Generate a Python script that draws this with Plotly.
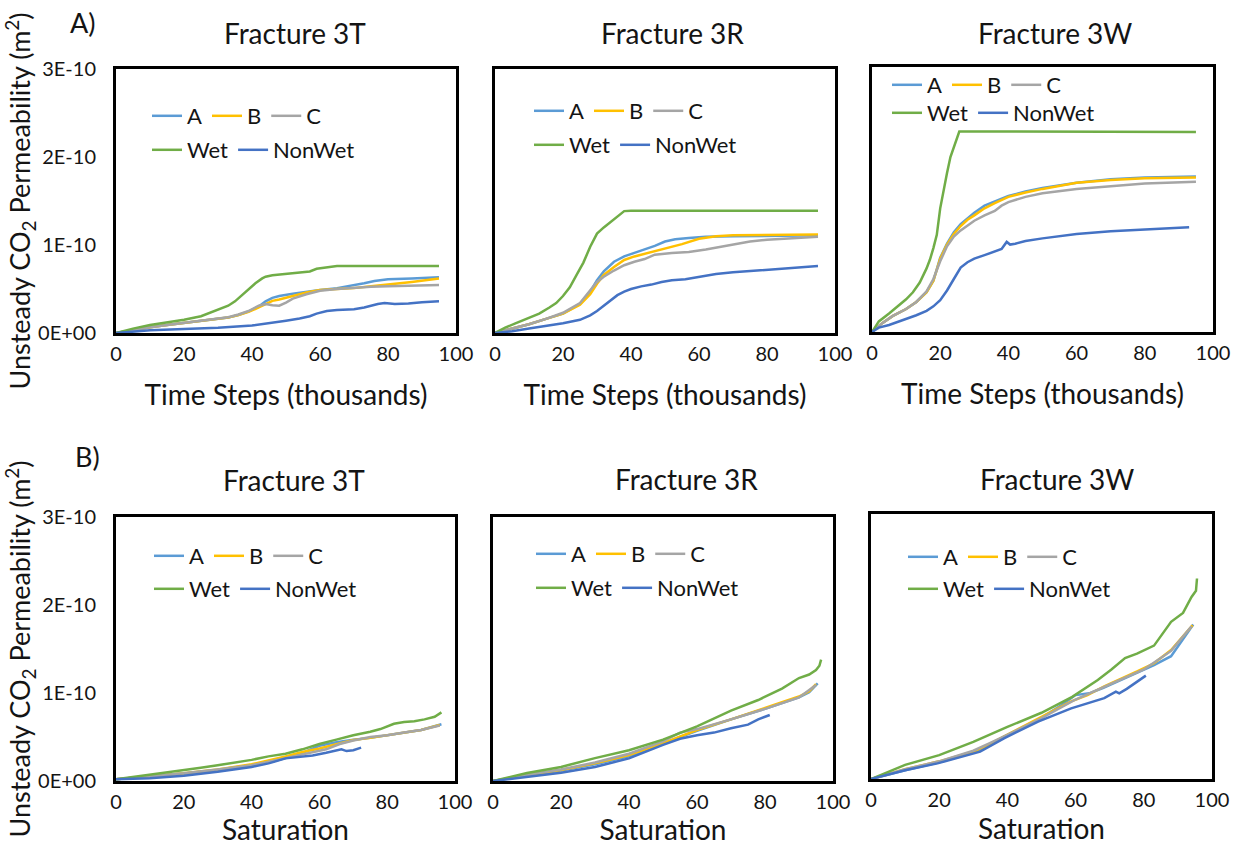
import plotly.graph_objects as go

UNIT = 1e-10  # values below are in units of 1E-10 m^2

# ---------------- Row A: permeability vs time steps (thousands) ----------------
# Fracture 3T
t3T_A_x = [0, 5, 10, 15, 20, 25, 30, 33, 36, 39, 42, 44, 46, 48, 52, 56, 60, 65, 70, 73, 76, 80, 87, 95]
t3T_A_y = [0, 0.035, 0.065, 0.09, 0.115, 0.14, 0.16, 0.175, 0.205, 0.245, 0.30, 0.36, 0.40, 0.42, 0.445, 0.47, 0.49, 0.51, 0.54, 0.565, 0.59, 0.61, 0.62, 0.633]
t3T_B_x = [0, 5, 10, 15, 20, 25, 30, 33, 36, 39, 42, 44, 46, 48, 52, 56, 60, 65, 70, 75, 80, 87, 95]
t3T_B_y = [0, 0.035, 0.065, 0.09, 0.115, 0.14, 0.16, 0.175, 0.205, 0.24, 0.29, 0.33, 0.365, 0.38, 0.42, 0.46, 0.49, 0.50, 0.51, 0.53, 0.55, 0.58, 0.62]
t3T_C_x = [0, 5, 10, 15, 20, 25, 30, 33, 36, 39, 42, 44, 46, 48, 50, 52, 56, 60, 65, 70, 75, 80, 87, 95]
t3T_C_y = [0, 0.035, 0.065, 0.09, 0.115, 0.14, 0.16, 0.18, 0.21, 0.25, 0.31, 0.33, 0.315, 0.31, 0.345, 0.39, 0.44, 0.48, 0.50, 0.515, 0.525, 0.53, 0.54, 0.545]
t3T_Wet_x = [0, 5, 10, 15, 20, 25, 27, 30, 33, 35, 37, 39, 41, 43, 44, 46, 49, 52, 55, 57, 59, 62, 65, 70, 80, 95]
t3T_Wet_y = [0, 0.05, 0.09, 0.12, 0.15, 0.19, 0.22, 0.26, 0.31, 0.36, 0.43, 0.50, 0.565, 0.62, 0.64, 0.655, 0.665, 0.675, 0.686, 0.70, 0.73, 0.745, 0.76, 0.76, 0.76, 0.76]
t3T_NonWet_x = [0, 10, 20, 30, 40, 45, 50, 54, 57, 59, 62, 65, 70, 73, 77, 79, 82, 86, 90, 95]
t3T_NonWet_y = [0, 0.03, 0.045, 0.06, 0.085, 0.11, 0.14, 0.165, 0.19, 0.22, 0.25, 0.26, 0.27, 0.29, 0.33, 0.34, 0.33, 0.335, 0.35, 0.36]

# Fracture 3R
t3R_A_x = [0, 5, 10, 15, 20, 25, 28, 30, 32, 35, 38, 41, 44, 47, 50, 53, 57, 62, 70, 80, 95]
t3R_A_y = [0, 0.05, 0.10, 0.16, 0.22, 0.33, 0.47, 0.60, 0.70, 0.81, 0.87, 0.91, 0.95, 0.99, 1.04, 1.065, 1.08, 1.095, 1.10, 1.105, 1.11]
t3R_B_x = [0, 5, 10, 15, 20, 25, 28, 30, 32, 35, 38, 41, 44, 47, 50, 55, 60, 65, 70, 80, 95]
t3R_B_y = [0, 0.05, 0.10, 0.16, 0.22, 0.32, 0.44, 0.56, 0.66, 0.75, 0.83, 0.87, 0.90, 0.93, 0.96, 1.01, 1.07, 1.10, 1.11, 1.115, 1.12]
t3R_C_x = [0, 5, 10, 15, 20, 25, 28, 30, 32, 35, 38, 41, 44, 47, 52, 57, 62, 66, 70, 75, 80, 88, 95]
t3R_C_y = [0, 0.05, 0.10, 0.16, 0.23, 0.34, 0.48, 0.58, 0.64, 0.71, 0.77, 0.81, 0.84, 0.89, 0.91, 0.92, 0.95, 0.98, 1.01, 1.04, 1.06, 1.08, 1.095]
t3R_Wet_x = [0, 3, 6, 10, 13, 16, 18, 20, 22, 24, 26, 28, 30, 32, 34, 36, 38, 40, 60, 80, 95]
t3R_Wet_y = [0, 0.06, 0.11, 0.17, 0.22, 0.29, 0.34, 0.42, 0.52, 0.66, 0.80, 0.98, 1.13, 1.20, 1.26, 1.33, 1.385, 1.39, 1.39, 1.39, 1.39]
t3R_NonWet_x = [0, 5, 10, 15, 20, 25, 28, 30, 32, 34, 36, 38, 40, 43, 46, 49, 52, 56, 60, 65, 70, 80, 95]
t3R_NonWet_y = [0, 0.02, 0.05, 0.08, 0.11, 0.15, 0.20, 0.25, 0.31, 0.38, 0.43, 0.47, 0.50, 0.53, 0.55, 0.58, 0.60, 0.61, 0.64, 0.67, 0.69, 0.72, 0.76]

# Fracture 3W
t3W_A_x = [0, 3, 6, 10, 13, 16, 18, 20, 22, 24, 26, 28, 30, 33, 36, 40, 45, 50, 60, 70, 80, 95]
t3W_A_y = [0, 0.10, 0.18, 0.26, 0.34, 0.45, 0.58, 0.84, 1.00, 1.13, 1.22, 1.29, 1.35, 1.43, 1.48, 1.54, 1.59, 1.63, 1.69, 1.73, 1.75, 1.76]
t3W_B_x = [0, 3, 6, 10, 13, 16, 18, 20, 22, 24, 26, 28, 30, 33, 36, 40, 45, 50, 60, 70, 80, 95]
t3W_B_y = [0, 0.10, 0.18, 0.26, 0.34, 0.45, 0.58, 0.83, 0.99, 1.11, 1.20, 1.27, 1.32, 1.40, 1.46, 1.53, 1.58, 1.62, 1.69, 1.72, 1.74, 1.75]
t3W_C_x = [0, 3, 6, 10, 13, 16, 18, 20, 22, 24, 26, 28, 30, 33, 36, 38, 40, 45, 50, 60, 70, 80, 95]
t3W_C_y = [0, 0.10, 0.18, 0.26, 0.34, 0.46, 0.60, 0.80, 0.97, 1.08, 1.15, 1.21, 1.26, 1.32, 1.37, 1.43, 1.47, 1.53, 1.57, 1.62, 1.65, 1.68, 1.70]
t3W_Wet_x = [0, 2, 5, 8, 10, 12, 14, 16, 17, 18, 19, 20, 21, 22, 23, 24, 25, 25.6, 27, 40, 60, 80, 95]
t3W_Wet_y = [0, 0.12, 0.21, 0.30, 0.37, 0.45, 0.56, 0.72, 0.82, 0.95, 1.10, 1.40, 1.62, 1.80, 1.98, 2.10, 2.20, 2.27, 2.27, 2.27, 2.27, 2.27, 2.265]
t3W_NonWet_x = [0, 2, 5, 8, 10, 13, 16, 18, 20, 22, 24, 26, 28, 30, 33, 36, 38, 39.5, 40.5, 42, 45, 50, 60, 70, 80, 93]
t3W_NonWet_y = [0, 0.05, 0.08, 0.12, 0.15, 0.19, 0.24, 0.29, 0.36, 0.47, 0.60, 0.73, 0.79, 0.83, 0.87, 0.91, 0.94, 1.02, 0.99, 1.00, 1.03, 1.06, 1.11, 1.14, 1.16, 1.185]

# ---------------- Row B: permeability vs saturation ----------------
s3T_A_x = [0, 10, 20, 30, 40, 45, 50, 55, 60, 65, 70, 75, 80, 85, 90, 96]
s3T_A_y = [0.02, 0.05, 0.085, 0.125, 0.17, 0.21, 0.26, 0.32, 0.40, 0.44, 0.47, 0.49, 0.52, 0.55, 0.58, 0.645]
s3T_B_x = [0, 10, 20, 30, 40, 50, 55, 60, 65, 70, 75, 80, 85, 90, 95.5]
s3T_B_y = [0.02, 0.05, 0.087, 0.13, 0.19, 0.28, 0.33, 0.37, 0.42, 0.466, 0.49, 0.52, 0.55, 0.58, 0.636]
s3T_C_x = [0, 10, 20, 30, 40, 50, 55, 58, 62, 66, 70, 75, 80, 85, 90, 95.5]
s3T_C_y = [0.02, 0.05, 0.087, 0.13, 0.18, 0.26, 0.30, 0.32, 0.36, 0.42, 0.46, 0.50, 0.52, 0.55, 0.58, 0.63]
s3T_Wet_x = [0, 5, 10, 15, 20, 25, 30, 35, 40, 45, 50, 55, 60, 65, 70, 75, 78, 82, 85, 88, 91, 94, 96]
s3T_Wet_y = [0.02, 0.045, 0.07, 0.10, 0.125, 0.15, 0.18, 0.21, 0.24, 0.28, 0.31, 0.36, 0.42, 0.47, 0.52, 0.56, 0.59, 0.65, 0.67, 0.68, 0.70, 0.73, 0.78]
s3T_NonWet_x = [0, 10, 20, 30, 40, 45, 50, 55, 58, 62, 65, 66.5, 68, 70, 72.3]
s3T_NonWet_y = [0.02, 0.03, 0.06, 0.105, 0.16, 0.20, 0.257, 0.28, 0.29, 0.32, 0.35, 0.36, 0.34, 0.35, 0.38]

s3R_A_x = [0, 10, 20, 30, 40, 50, 55, 60, 70, 80, 90, 93, 95.5]
s3R_A_y = [0, 0.06, 0.12, 0.19, 0.28, 0.42, 0.50, 0.57, 0.70, 0.82, 0.95, 1.01, 1.11]
s3R_B_x = [0, 10, 20, 30, 40, 50, 60, 70, 80, 90, 93, 95]
s3R_B_y = [0, 0.068, 0.125, 0.20, 0.295, 0.43, 0.58, 0.70, 0.83, 0.96, 1.02, 1.10]
s3R_C_x = [0, 10, 20, 30, 40, 50, 55, 60, 70, 80, 90, 95]
s3R_C_y = [0, 0.07, 0.13, 0.21, 0.31, 0.45, 0.55, 0.59, 0.70, 0.82, 0.95, 1.09]
s3R_Wet_x = [0, 10, 20, 30, 40, 50, 60, 70, 78, 85, 90, 93, 95, 96, 96.5]
s3R_Wet_y = [0, 0.09, 0.16, 0.26, 0.35, 0.47, 0.62, 0.80, 0.92, 1.05, 1.17, 1.21, 1.26, 1.31, 1.38]
s3R_NonWet_x = [0, 10, 20, 30, 40, 50, 55, 60, 65, 70, 75, 78, 81.4]
s3R_NonWet_y = [0, 0.05, 0.095, 0.16, 0.257, 0.41, 0.48, 0.52, 0.55, 0.60, 0.64, 0.70, 0.75]

s3W_A_x = [0, 10, 20, 30, 34, 39, 49, 56, 60, 64, 68, 78, 83, 88, 91, 94.5]
s3W_A_y = [0, 0.10, 0.19, 0.30, 0.37, 0.48, 0.67, 0.84, 0.95, 0.97, 1.03, 1.20, 1.29, 1.39, 1.55, 1.75]
s3W_B_x = [0, 10, 20, 30, 34, 39, 49, 58.7, 63.5, 68.4, 78.2, 83, 88, 94.3]
s3W_B_y = [0, 0.11, 0.20, 0.31, 0.38, 0.48, 0.68, 0.88, 0.95, 1.05, 1.22, 1.31, 1.46, 1.74]
s3W_C_x = [0, 10, 20, 30, 35, 40, 50, 60, 70, 80, 88, 94]
s3W_C_y = [0, 0.11, 0.20, 0.32, 0.41, 0.50, 0.69, 0.90, 1.07, 1.24, 1.45, 1.73]
s3W_Wet_x = [0, 10, 20, 30, 40, 50, 59, 66.5, 70.5, 74.5, 78, 83, 88, 91.5, 94, 95.3, 95.6]
s3W_Wet_y = [0, 0.16, 0.27, 0.42, 0.59, 0.75, 0.93, 1.12, 1.24, 1.37, 1.42, 1.51, 1.78, 1.88, 2.06, 2.13, 2.27]
s3W_NonWet_x = [0, 10, 19.5, 32, 39, 49, 58.7, 68.4, 71.8, 72.8, 75, 80.6]
s3W_NonWet_y = [0, 0.10, 0.177, 0.31, 0.46, 0.65, 0.80, 0.915, 0.99, 0.97, 1.02, 1.17]

series_names = ["A", "B", "C", "Wet", "NonWet"]
series_colors = {"A": "#5B9BD5", "B": "#FFC000", "C": "#A5A5A5", "Wet": "#70AD47", "NonWet": "#4472C4"}
panel_titles = ["Fracture 3T", "Fracture 3R", "Fracture 3W", "Fracture 3T", "Fracture 3R", "Fracture 3W"]
y_tickvals = [0, 1, 2, 3]
y_ticktext = ["0E+00", "1E-10", "2E-10", "3E-10"]
x_tickvals = [0, 20, 40, 60, 80, 100]
y_title = "Unsteady CO<sub>2</sub> Permeability (m<sup>2</sup>)"

g = globals()
panel_prefixes = ["t3T", "t3R", "t3W", "s3T", "s3R", "s3W"]

# ---------------- layout geometry (pixels) ----------------
W, H = 1239, 846
FONT = "Lato"
TXT = "#141414"
boxes = [  # left, right, top, bottom in px
    (116, 456, 69, 333), (495, 835, 69, 333), (872, 1213, 67, 332),
    (116, 455, 517, 781), (493, 833, 517, 781), (871, 1212, 514, 779),
]
title_pos = [(295, 33), (672, 33), (1055, 33), (294, 480), (686, 479), (1057, 479)]
legend_rows = [  # (x of legend, y row1, y row2)
    (147, 116, 150), (529, 111, 145), (887, 85, 113),
    (149, 556, 589), (531, 554, 588), (903, 557, 589),
]

def px(x):
    return x / W

def py(y):
    return 1 - y / H

fig = go.Figure()
layout = dict(
    width=W, height=H, margin=dict(l=0, r=0, t=0, b=0, autoexpand=False),
    paper_bgcolor="white", plot_bgcolor="white",
    font=dict(family=FONT, color=TXT),
    showlegend=True, annotations=[],
)

for i, pre in enumerate(panel_prefixes):
    n = i + 1
    sfx = "" if n == 1 else str(n)
    lg1 = "legend" if n == 1 else f"legend{2 * n - 1}"
    lg2 = f"legend{2 * n}"
    for s in series_names:
        xs = g[f"{pre}_{s}_x"]
        ys = [v * UNIT for v in g[f"{pre}_{s}_y"]]
        fig.add_trace(go.Scatter(
            x=xs, y=ys, mode="lines", name=s,
            line=dict(color=series_colors[s], width=2.5),
            xaxis=f"x{sfx}", yaxis=f"y{sfx}",
            legend=lg1 if s in ("A", "B", "C") else lg2,
            hoverinfo="skip",
        ))
    l, r, t, b = boxes[i]
    left_col = i % 3 == 0
    xtitle = "Time Steps (thousands)" if i < 3 else "Saturation"
    layout[f"xaxis{sfx}"] = dict(
        domain=[px(l), px(r)], anchor=f"y{sfx}", range=[0, 100],
        tickvals=x_tickvals, showgrid=False, zeroline=False,
        showline=True, mirror=True, linecolor="black", linewidth=3,
        ticks="", ticklabelstandoff=1,
        tickfont=dict(size=20, family=FONT, color=TXT),
        title=dict(text=xtitle, font=dict(size=28, family=FONT, color=TXT),
                   standoff=22 if i < 3 else 5),
    )
    yax = dict(
        domain=[py(b), py(t)], anchor=f"x{sfx}", range=[0, 3 * UNIT],
        tickvals=[v * UNIT for v in y_tickvals], ticktext=y_ticktext,
        showticklabels=left_col, showgrid=False, zeroline=False,
        showline=True, mirror=True, linecolor="black", linewidth=3,
        ticks="", ticklabelstandoff=13,
        tickfont=dict(size=20, family=FONT, color=TXT),
    )
    if left_col:
        yax["title"] = dict(text=y_title, font=dict(size=27, family=FONT, color=TXT), standoff=5)
    layout[f"yaxis{sfx}"] = yax
    lx, ly1, ly2 = legend_rows[i]
    for lg, ly in ((lg1, ly1), (lg2, ly2)):
        layout[lg] = dict(
            orientation="h", x=px(lx), y=py(ly), xanchor="left", yanchor="middle",
            xref="paper", yref="paper",
            bgcolor="rgba(0,0,0,0)", borderwidth=0, itemwidth=30,
            font=dict(size=22, family=FONT, color=TXT),
            traceorder="normal",
        )
    tx, ty = title_pos[i]
    layout["annotations"].append(dict(
        text=panel_titles[i], x=px(tx), y=py(ty), xref="paper", yref="paper",
        showarrow=False, xanchor="center", yanchor="middle",
        font=dict(size=28, family=FONT, color=TXT),
    ))

for label, x0, y0 in (("A)", 83, 22), ("B)", 87, 456)):
    layout["annotations"].append(dict(
        text=label, x=px(x0), y=py(y0), xref="paper", yref="paper",
        showarrow=False, xanchor="center", yanchor="middle",
        font=dict(size=27, family=FONT, color=TXT),
    ))

fig.update_layout(**layout)
fig.write_html("out.html")
